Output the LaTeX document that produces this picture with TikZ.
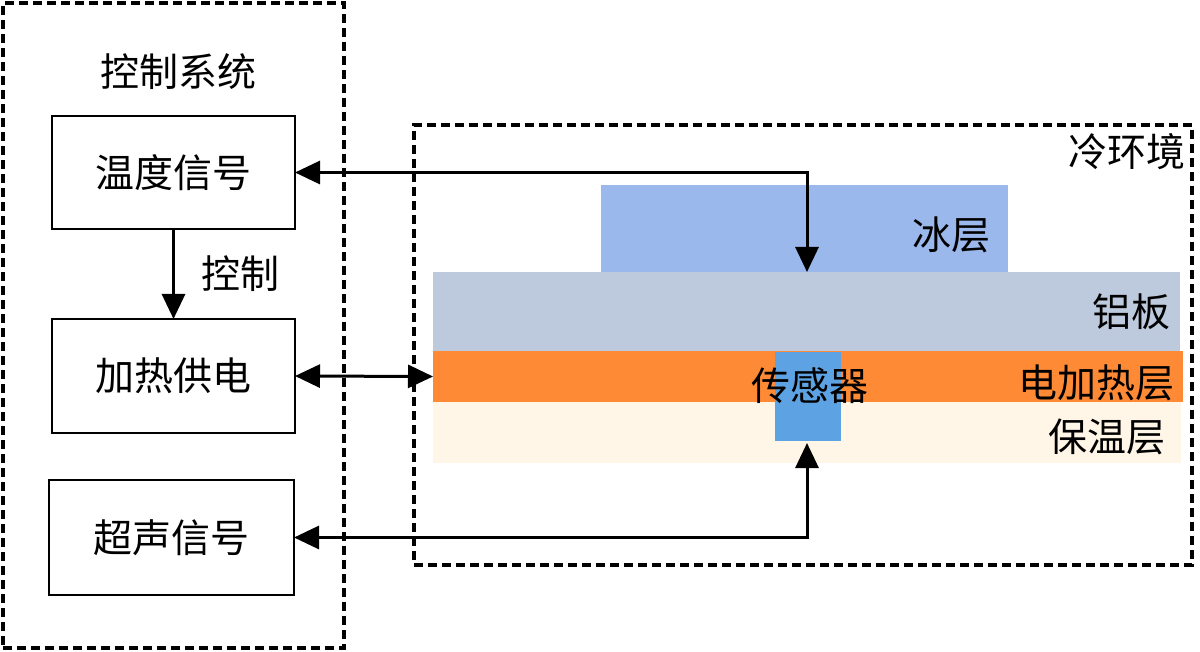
\documentclass[tikz,border=0pt]{standalone}
\usepackage{fontspec}
\setmainfont{Noto Sans CJK SC}
\usetikzlibrary{arrows.meta}
\definecolor{icec}{HTML}{9BB8EC}
\definecolor{alc}{HTML}{BDC9DC}
\definecolor{heatc}{HTML}{FF8A35}
\definecolor{insc}{HTML}{FFF6E7}
\definecolor{senc}{HTML}{5DA3E4}
\begin{document}
\begin{tikzpicture}[x=0.5pt,y=-0.5pt,
  every node/.style={inner sep=0pt,outer sep=0pt,font=\fontsize{19.5}{20}\selectfont},
  dashbox/.style={draw,line width=1.6pt,dash pattern=on 4.5pt off 2.5pt},
  blk/.style={draw,line width=1.3pt},
  layer/.style={draw=none},
  arr/.style={line width=1.5pt,-{Triangle[length=12.5pt,width=11.5pt]}},
  darr/.style={line width=1.5pt,{Triangle[length=12.5pt,width=11.5pt]}-{Triangle[length=12.5pt,width=11.5pt]}}]
\useasboundingbox (0,0) rectangle (1200,652);
% control system
\node[dashbox,minimum width=170.5pt,minimum height=322.5pt] (sys) at (173.5,325.5) {};
\node (systitle) at (178,72) {控制系统};
\node[blk,minimum width=121.5pt,minimum height=56.5pt] (temp) at (173.5,172.5) {温度信号};
\node[blk,minimum width=121.5pt,minimum height=57pt] (heat) at (173.5,376) {加热供电};
\node[blk,minimum width=122.5pt,minimum height=57.5pt] (ultra) at (171.5,537.5) {超声信号};
% cold environment
\node[dashbox,minimum width=389pt,minimum height=220pt] (env) at (803,345) {};
\node[anchor=east] (envlabel) at (1185,152) {冷环境};
\node[layer,fill=icec,minimum width=203.5pt,minimum height=43.5pt] (ice) at (804.5,228.5) {};
\node[layer,fill=alc,minimum width=373.5pt,minimum height=39.5pt] (al) at (806.5,311.5) {};
\node[layer,fill=insc,minimum width=374pt,minimum height=30.5pt] (ins) at (807,432.5) {};
\node[layer,fill=heatc,minimum width=375pt,minimum height=25.5pt] (heater) at (808,376.5) {};
\node[layer,fill=senc,minimum width=33pt,minimum height=44.5pt] (sensor) at (808,396.5) {};
\node (icelabel) at (951,235) {冰层};
\node (allabel) at (1131,312) {铝板};
\node[anchor=east] (heatlabel) at (1174,383) {电加热层};
\node (inslabel) at (1107,437) {保温层};
\node (senlabel) at (810,386) {传感器};
% connectors
\coordinate (icehit) at (807,272);
\coordinate (senhit) at (807,443);
\draw[arr] (temp.south) -- (heat.north) node[midway,right=14pt] (ctllabel) {控制};
\draw[darr] (temp.east) -| (icehit);
\draw[darr] (heat.east) -- (heater.west);
\draw[darr] (ultra.east) -| (senhit);
\end{tikzpicture}
\end{document}
